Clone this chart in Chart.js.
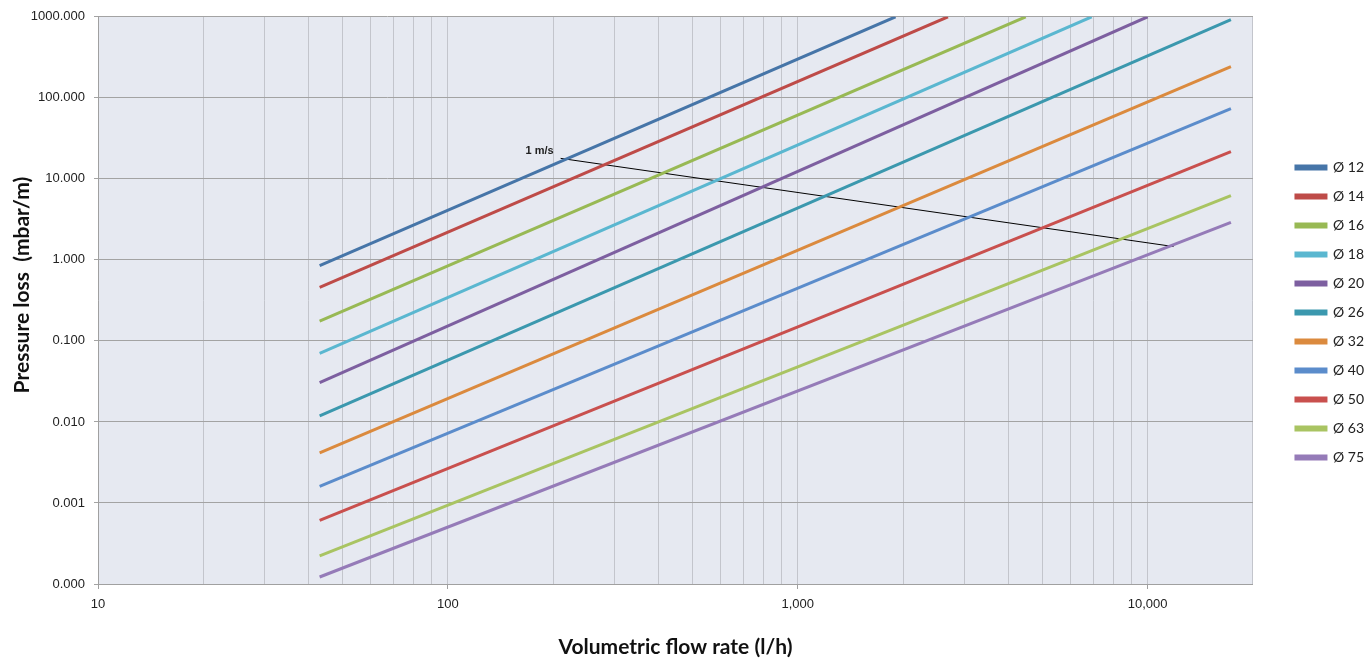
<!DOCTYPE html>
<html>
<head>
<meta charset="utf-8">
<script src="https://cdn.jsdelivr.net/npm/chart.js@4"></script>
<style>
  html, body { margin: 0; padding: 0; background: #fff; }
  #wrap { width: 1372px; height: 661px; }
</style>
</head>
<body>
<div id="wrap"><canvas id="lossChart" width="1372" height="661"></canvas></div>
<script>
// pipe sizes and their colours
const pipeSizes = ['Ø 12', 'Ø 14', 'Ø 16', 'Ø 18', 'Ø 20', 'Ø 26', 'Ø 32', 'Ø 40', 'Ø 50', 'Ø 63', 'Ø 75'];
const lineColors = ['#4675A8', '#BE4B48', '#98B954', '#5AB7D0', '#7D5FA0', '#3B98AE',
                    '#DB8A3E', '#5B8CCB', '#C9504E', '#A9C462', '#957BB8'];

// every line starts at the same flow rate
const flowStart = 43;
const lossAtStart = [0.85, 0.459, 0.175, 0.0703, 0.0306, 0.0119, 0.00414, 0.0016, 0.00061, 0.000223, 0.000122];

// end points (the small pipes leave the chart at the 1000 line)
const flowAtEnd = [1903, 2687, 4482, 6920, 10000, 17300, 17300, 17300, 17300, 17300, 17300];
const lossAtEnd = [1000, 1000, 1000, 1000, 1000, 926, 243, 73.8, 21.7, 6.22, 2.91];

// 1 m/s velocity line
const velocityFlow = [210, 11860];
const velocityLoss = [17.9, 1.46];

// axis ticks
const xTicks = [10, 20, 30, 40, 50, 60, 70, 80, 90,
                100, 200, 300, 400, 500, 600, 700, 800, 900,
                1000, 2000, 3000, 4000, 5000, 6000, 7000, 8000, 9000,
                10000, 20000];
const xLabelTicks = [10, 100, 1000, 10000];
const yTicks = [0.0001, 0.001, 0.01, 0.1, 1, 10, 100, 1000];

const datasets = pipeSizes.map((name, i) => ({
    label: name,
    data: [{x: flowStart, y: lossAtStart[i]}, {x: flowAtEnd[i], y: lossAtEnd[i]}],
    borderColor: lineColors[i],
    backgroundColor: lineColors[i],
    borderWidth: 3,
    pointRadius: 0
}));
datasets.push({
    label: '1 m/s',
    data: [{x: velocityFlow[0], y: velocityLoss[0]}, {x: velocityFlow[1], y: velocityLoss[1]}],
    borderColor: '#000',
    borderWidth: 1,
    pointRadius: 0
});

// light plot background
const plotBackground = {
    id: 'plotBackground',
    beforeDraw(chart) {
        const {ctx, chartArea: a} = chart;
        ctx.save();
        ctx.fillStyle = '#E6E9F1';
        ctx.fillRect(a.left, a.top, a.right - a.left, a.bottom - a.top);
        ctx.restore();
    }
};

// push the legend a bit away from the plot and up, like the original
const legendNudge = {
    id: 'legendNudge',
    afterLayout(chart) {
        const lg = chart.legend;
        lg.left += 28; lg.right += 28;
        lg.top -= 24; lg.bottom -= 24;
    }
};

// "1 m/s" text next to the start of the velocity line
const velocityLabel = {
    id: 'velocityLabel',
    afterDatasetsDraw(chart) {
        const {ctx, scales} = chart;
        const px = scales.x.getPixelForValue(velocityFlow[0]);
        const py = scales.y.getPixelForValue(velocityLoss[0]);
        ctx.save();
        ctx.font = 'bold 11px "Liberation Sans", Arial, sans-serif';
        ctx.fillStyle = '#222';
        ctx.textAlign = 'right';
        ctx.textBaseline = 'middle';
        ctx.fillText('1 m/s', px - 7, py - 7);
        ctx.restore();
    }
};

const tickFont = {family: '"Liberation Sans", Arial, sans-serif', size: 13};

new Chart(document.getElementById('lossChart'), {
    type: 'line',
    data: {datasets},
    plugins: [plotBackground, legendNudge, velocityLabel],
    options: {
        responsive: false,
        animation: false,
        events: [],
        layout: {padding: {left: 8, top: 13, right: 26, bottom: 1}},
        scales: {
            x: {
                type: 'logarithmic',
                min: 10,
                max: 20000,
                afterBuildTicks: s => { s.ticks = xTicks.map(v => ({value: v})); },
                afterFit: s => { s.height = 76; },
                ticks: {
                    autoSkip: false,
                    maxRotation: 0,
                    color: '#222',
                    font: tickFont,
                    padding: 8,
                    callback: v => xLabelTicks.includes(v) ? v.toLocaleString('en-US') : ''
                },
                grid: {
                    color: '#C3C5CC',
                    tickLength: 5,
                    tickColor: c => xLabelTicks.includes(c.tick.value) ? '#A0A0A0' : 'rgba(0,0,0,0)'
                },
                border: {color: '#A0A0A0'},
                title: {
                    display: true,
                    text: 'Volumetric flow rate (l/h)',
                    color: '#111',
                    font: {family: 'Lato, sans-serif', size: 21, weight: 'bold'},
                    padding: {top: 4, bottom: 0}
                }
            },
            y: {
                type: 'logarithmic',
                min: 0.0001,
                max: 1000,
                afterBuildTicks: s => { s.ticks = yTicks.map(v => ({value: v})); },
                afterFit: s => { s.width = 90; },
                ticks: {
                    color: '#222',
                    font: tickFont,
                    padding: 9,
                    callback: v => v.toFixed(3)
                },
                grid: {color: '#A3A3A3', tickLength: 4},
                border: {color: '#A0A0A0'},
                title: {
                    display: true,
                    text: '      Pressure loss  (mbar/m)',
                    color: '#111',
                    font: {family: 'Lato, sans-serif', size: 21, weight: 'bold'},
                    padding: {top: 2, bottom: 0}
                }
            }
        },
        plugins: {
            legend: {
                position: 'right',
                labels: {
                    filter: item => item.text !== '1 m/s',
                    boxWidth: 30,
                    boxHeight: 3,
                    padding: 15,
                    color: '#222',
                    font: {family: 'Lato, sans-serif', size: 14}
                }
            },
            tooltip: {enabled: false}
        }
    }
});
</script>
</body>
</html>
